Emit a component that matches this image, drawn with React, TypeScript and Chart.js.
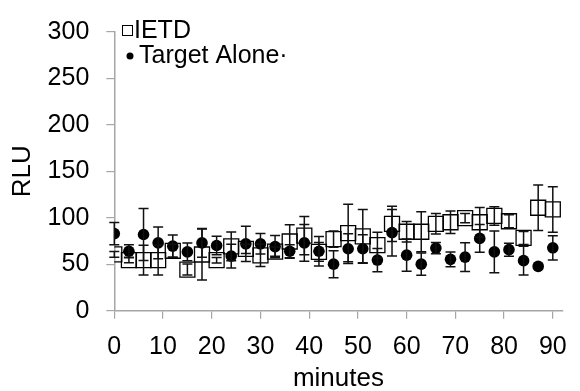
import React, { useEffect, useRef } from 'react';
import { Chart, registerables } from 'chart.js';

Chart.register(...registerables);

const minutes = [0, 3, 6, 9, 12, 15, 18, 21, 24, 27, 30, 33, 36, 39, 42, 45, 48, 51, 54, 57, 60, 63, 66, 69, 72, 75, 78, 81, 84, 87, 90];
const ietd = [60.6, 54.5, 54.4, 54.5, 64.5, 44.3, 60.5, 54.4, 69.3, 66.5, 59.5, 63.5, 74.5, 80.8, 63.3, 77, 83.6, 80, 70.5, 93.5, 85, 85, 93.5, 95.2, 99.7, 95.2, 102, 96.3, 78.3, 110.8, 109];
const ietdErr = [3, 3, 16, 16, 7, 6, 27.5, 3, 15.4, 5, 12, 5, 18, 20.5, 10, 8.7, 31, 29, 14, 19, 11, 21.5, 11, 12, 5, 16, 10, 7, 7, 24.5, 24.5];
const targetAlone = [83, 64, 82, 73, 69.5, 63.3, 73, 70.2, 58.8, 72, 72, 69, 64, 73, 64, 50.1, 66.7, 66.7, 54.5, 84, 59.8, 50.1, 67.4, 55.3, 57.7, 77.8, 63.3, 65.7, 53.9, 47.7, 67.7];
const targetErr = [12, 7, 28, 17, 12, 9.5, 15.5, 10, 12.8, 19, 11, 12, 7, 19.7, 16, 14.5, 16, 15, 12.5, 25, 17.3, 12, 6, 8, 15.5, 15, 22.5, 7, 15.5, 0, 13];
const xTicks = [0, 10, 20, 30, 40, 50, 60, 70, 80, 90];
const yTicks = [0, 50, 100, 150, 200, 250, 300];
const seriesNames = ['IETD', 'Target Alone·'];
const xTitle = 'minutes';
const yTitle = 'RLU';

const FONT = "'Liberation Sans', Arial, sans-serif";
const AXIS_COLOR = '#a6a6a6';

const errorBarPlugin = {
  id: 'errorBars',
  afterDatasetsDraw(chart: any) {
    const ctx = chart.ctx;
    const xs = chart.scales.x;
    const ys = chart.scales.y;
    ctx.save();
    ctx.strokeStyle = '#111';
    ctx.lineWidth = 1.5;
    const draw = (vals: number[], errs: number[]) => {
      for (let i = 0; i < vals.length; i++) {
        if (!errs[i]) continue;
        const x = xs.getPixelForValue(minutes[i]);
        const yt = ys.getPixelForValue(vals[i] + errs[i]);
        const yb = ys.getPixelForValue(vals[i] - errs[i]);
        ctx.beginPath();
        ctx.moveTo(x, yt);
        ctx.lineTo(x, yb);
        ctx.moveTo(x - 5, yt);
        ctx.lineTo(x + 5, yt);
        ctx.moveTo(x - 5, yb);
        ctx.lineTo(x + 5, yb);
        ctx.stroke();
      }
    };
    draw(ietd, ietdErr);
    draw(targetAlone, targetErr);
    ctx.restore();
  },
};

const legendPlugin = {
  id: 'customLegend',
  afterDraw(chart: any) {
    const ctx = chart.ctx;
    ctx.save();
    ctx.font = `25px ${FONT}`;
    ctx.fillStyle = '#000';
    ctx.textBaseline = 'middle';
    ctx.textAlign = 'left';
    ctx.strokeStyle = '#000';
    ctx.lineWidth = 1;
    ctx.strokeRect(122.5, 25.5, 10, 10);
    ctx.fillText(seriesNames[0], 134, 31);
    ctx.beginPath();
    ctx.arc(130, 56, 3.5, 0, Math.PI * 2);
    ctx.fill();
    ctx.fillText(seriesNames[1], 139, 56);
    ctx.restore();
  },
};

export default function App() {
  const ref = useRef<HTMLCanvasElement | null>(null);
  useEffect(() => {
    if (!ref.current) return;
    const chart = new Chart(ref.current, {
      type: 'scatter',
      data: {
        datasets: [
          {
            label: seriesNames[0],
            data: minutes.map((m, i) => ({ x: m, y: ietd[i] })),
            pointStyle: 'rect',
            pointRadius: 10.6,
            borderColor: '#000',
            backgroundColor: 'rgba(255,255,255,0)',
            borderWidth: 1.3,
            showLine: false,
          },
          {
            label: seriesNames[1],
            data: minutes.map((m, i) => ({ x: m, y: targetAlone[i] })),
            pointStyle: 'circle',
            pointRadius: 5.8,
            borderColor: '#000',
            backgroundColor: '#000',
            borderWidth: 0,
            showLine: false,
          },
        ],
      },
      options: {
        animation: false,
        responsive: false,
        maintainAspectRatio: false,
        layout: { padding: { top: 22.7, right: 13.5, left: 0, bottom: 0 } },
        plugins: { legend: { display: false }, tooltip: { enabled: false } },
        scales: {
          x: {
            type: 'linear',
            min: 0,
            max: 92,
            afterBuildTicks: (s: any) => {
              s.ticks = xTicks.map((v) => ({ value: v }));
            },
            afterFit: (s: any) => {
              s.height = 80.3;
            },
            ticks: {
              color: '#000',
              font: { family: FONT, size: 25 },
              padding: 13,
              maxRotation: 0,
              autoSkip: false,
            },
            grid: {
              display: true,
              drawOnChartArea: false,
              drawTicks: true,
              tickLength: 8,
              color: AXIS_COLOR,
              lineWidth: 1.2,
            },
            border: { display: true, color: AXIS_COLOR, width: 1.5 },
            title: {
              display: true,
              text: xTitle,
              color: '#000',
              font: { family: FONT, size: 26 },
              padding: { top: 0, bottom: -3 },
            },
          },
          y: {
            type: 'linear',
            min: 0,
            max: 300,
            afterBuildTicks: (s: any) => {
              s.ticks = yTicks.map((v) => ({ value: v }));
            },
            afterFit: (s: any) => {
              s.width = 114.3;
            },
            ticks: {
              color: '#000',
              font: { family: FONT, size: 25 },
              padding: 17,
              autoSkip: false,
            },
            grid: {
              display: true,
              drawOnChartArea: false,
              drawTicks: true,
              tickLength: 8,
              color: AXIS_COLOR,
              lineWidth: 1.2,
            },
            border: { display: true, color: AXIS_COLOR, width: 1.5 },
            title: {
              display: true,
              text: yTitle,
              color: '#000',
              font: { family: FONT, size: 26 },
              padding: { top: 7, bottom: 0 },
            },
          },
        },
      },
      plugins: [errorBarPlugin, legendPlugin],
    });
    return () => chart.destroy();
  }, []);
  return (
    <div style={{ position: 'fixed', left: 0, top: 0, width: 580, height: 391, background: '#fff' }}>
      <canvas ref={ref} width={580} height={391} style={{ display: 'block', width: 580, height: 391 }} />
    </div>
  );
}
